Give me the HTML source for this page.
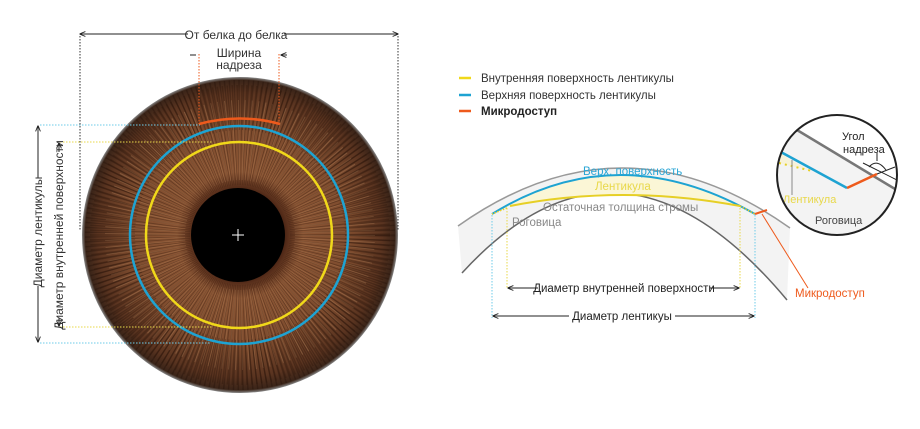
<!DOCTYPE html>
<html><head><meta charset="utf-8"><style>
html,body{margin:0;padding:0;background:#fff;}
svg{display:block;font-family:"Liberation Sans",sans-serif;}
</style></head><body>
<svg width="920" height="429" viewBox="0 0 920 429" xmlns="http://www.w3.org/2000/svg">
<defs>
<radialGradient id="iris" cx="240" cy="235" r="158" gradientUnits="userSpaceOnUse">
<stop offset="0.28" stop-color="#4a2414"/>
<stop offset="0.4" stop-color="#8a5534"/>
<stop offset="0.7" stop-color="#7e4c2e"/>
<stop offset="0.9" stop-color="#5a3420"/>
<stop offset="0.98" stop-color="#3a2418"/>
<stop offset="1" stop-color="#888"/>
</radialGradient>
<clipPath id="ic"><circle cx="837" cy="175" r="60"/></clipPath>
<marker id="ar" viewBox="0 0 10 10" refX="9" refY="5" markerWidth="6" markerHeight="6" orient="auto-start-reverse"><path d="M0,1 L10,5 L0,9" fill="none" stroke="#222" stroke-width="1.5"/></marker>
</defs>

<!-- Eye -->
<circle cx="240" cy="235" r="158" fill="url(#iris)"/>
<circle cx="240" cy="235" r="100" fill="none" stroke="#2a1408" stroke-width="100" stroke-dasharray="1 2.3" opacity="0.35"/>
<circle cx="240" cy="235" r="95" fill="none" stroke="#c8966a" stroke-width="80" stroke-dasharray="0.8 4.1" opacity="0.3"/>
<circle cx="240" cy="235" r="130" fill="none" stroke="#1e0e06" stroke-width="50" stroke-dasharray="1.2 2.9" opacity="0.3"/>
<circle cx="238" cy="235" r="47" fill="#000"/>
<path d="M232 235h12M238 229v12" stroke="#fff" stroke-width="1"/>
<circle cx="239" cy="235" r="109" fill="none" stroke="#1ea3d2" stroke-width="2.5"/>
<circle cx="239" cy="235" r="93" fill="none" stroke="#f0d81a" stroke-width="2.5"/>
<path d="M199 124 Q240 113 280 124" fill="none" stroke="#ee5a1c" stroke-width="2.5"/>

<!-- top dimension -->
<line x1="80" y1="34" x2="398" y2="34" stroke="#222" stroke-width="1" marker-start="url(#ar)" marker-end="url(#ar)"/>
<rect x="188" y="27" width="96" height="14" fill="#fff"/>
<text x="236" y="39" font-size="12" fill="#333" text-anchor="middle">От белка до белка</text>
<line x1="80" y1="36" x2="80" y2="231" stroke="#333" stroke-dasharray="1.5 1.5"/>
<line x1="398" y1="36" x2="398" y2="231" stroke="#333" stroke-dasharray="1.5 1.5"/>
<line x1="199" y1="54" x2="199" y2="124" stroke="#ee5a1c" stroke-dasharray="1.5 1.5"/>
<line x1="279" y1="54" x2="279" y2="124" stroke="#ee5a1c" stroke-dasharray="1.5 1.5"/>
<path d="M190 55h6M287 55h-6" stroke="#222" marker-end="url(#ar)"/>
<text x="239" y="57" font-size="12" fill="#333" text-anchor="middle">Ширина</text>
<text x="239" y="69" font-size="12" fill="#333" text-anchor="middle">надреза</text>

<!-- left dims -->
<line x1="40" y1="125" x2="200" y2="125" stroke="#6ccbe8" stroke-dasharray="1.5 1.5"/>
<line x1="40" y1="343" x2="210" y2="343" stroke="#6ccbe8" stroke-dasharray="1.5 1.5"/>
<line x1="60" y1="142" x2="212" y2="142" stroke="#e8d84a" stroke-dasharray="1.5 1.5"/>
<line x1="60" y1="327" x2="212" y2="327" stroke="#e8d84a" stroke-dasharray="1.5 1.5"/>
<line x1="38" y1="126" x2="38" y2="342" stroke="#222" marker-start="url(#ar)" marker-end="url(#ar)"/>
<line x1="59" y1="143" x2="59" y2="326" stroke="#222" marker-start="url(#ar)" marker-end="url(#ar)"/>
<rect x="31" y="178" width="14" height="108" fill="#fff"/>
<rect x="52" y="152" width="14" height="166" fill="#fff"/>
<text transform="translate(42,232) rotate(-90)" font-size="12" fill="#333" text-anchor="middle">Диаметр лентикулы</text>
<text transform="translate(63,235) rotate(-90)" font-size="12" fill="#333" text-anchor="middle">Диаметр внутренней поверхности</text>

<!-- legend -->
<path d="M459 78h12" stroke="#f0d81a" stroke-width="2.5"/>
<path d="M459 95h12" stroke="#1ea3d2" stroke-width="2.5"/>
<path d="M459 111h12" stroke="#ee5a1c" stroke-width="2.5"/>
<text x="481" y="82" font-size="11.5" fill="#333">Внутренняя поверхность лентикулы</text>
<text x="481" y="99" font-size="11.5" fill="#333">Верхняя поверхность лентикулы</text>
<text x="481" y="115" font-size="11.5" fill="#222" font-weight="bold">Микродоступ</text>

<!-- cornea -->
<path d="M458 226 Q623 109 790 228 L787 300 Q620 100 462 273 Z" fill="#f3f3f3"/>
<path d="M458 226 Q623 109 790 228" fill="none" stroke="#999" stroke-width="1.5"/>
<path d="M462 273 Q620 100 787 300" fill="none" stroke="#666" stroke-width="1.5"/>
<path d="M492 214 Q618 136 755 214 L740 206 Q622 184 510 206 Z" fill="#fbf6d6"/>
<path d="M492 214 Q618 136 755 214" fill="none" stroke="#1ea3d2" stroke-width="2"/>
<path d="M510 206 Q622 184 740 206" fill="none" stroke="#e6cf26" stroke-width="2"/>
<path d="M507 208 L492 214 M740 206 L755 214" stroke="#e6cf26" stroke-width="1.5" stroke-dasharray="1.5 1.5"/>
<line x1="755" y1="214" x2="767" y2="210" stroke="#ee5a1c" stroke-width="2"/>
<line x1="762" y1="214" x2="808" y2="288" stroke="#ee5a1c" stroke-width="1"/>
<text x="795" y="297" font-size="11.5" fill="#ee5a1c">Микродоступ</text>
<text x="583" y="175" font-size="11.5" fill="#2aa6d6">Верх. поверхность</text>
<text x="595" y="190" font-size="11.5" fill="#e8d84a">Лентикула</text>
<text x="543" y="211" font-size="11.5" fill="#888">Остаточная толщина стромы</text>
<text x="512" y="226" font-size="11.5" fill="#888">Роговица</text>
<line x1="492" y1="215" x2="492" y2="318" stroke="#6ccbe8" stroke-dasharray="1.5 1.5"/>
<line x1="755" y1="215" x2="755" y2="318" stroke="#6ccbe8" stroke-dasharray="1.5 1.5"/>
<line x1="507" y1="208" x2="507" y2="288" stroke="#e8d84a" stroke-dasharray="1.5 1.5"/>
<line x1="740" y1="208" x2="740" y2="288" stroke="#e8d84a" stroke-dasharray="1.5 1.5"/>
<line x1="508" y1="288" x2="739" y2="288" stroke="#222" marker-start="url(#ar)" marker-end="url(#ar)"/>
<rect x="538" y="281" width="172" height="14" fill="#fff"/>
<text x="624" y="292" font-size="11.5" fill="#222" text-anchor="middle">Диаметр внутренней поверхности</text>
<line x1="493" y1="316" x2="754" y2="316" stroke="#222" marker-start="url(#ar)" marker-end="url(#ar)"/>
<rect x="569" y="309" width="106" height="14" fill="#fff"/>
<text x="622" y="320" font-size="11.5" fill="#222" text-anchor="middle">Диаметр лентикуы</text>

<!-- inset -->
<g clip-path="url(#ic)">
<rect x="770" y="110" width="140" height="130" fill="#f3f3f3"/>
<path d="M770 110 L770 112 L797 130 L910 198 L910 110 Z" fill="#fff"/>
<path d="M775 148 L779 151 L779 163 L812 171 L790 160 Z" fill="#f7f2d8"/>
<line x1="797" y1="130" x2="900" y2="192" stroke="#777" stroke-width="2.5"/>
<line x1="779" y1="151" x2="847" y2="188" stroke="#1ea3d2" stroke-width="2.5"/>
<line x1="847" y1="188" x2="877" y2="174" stroke="#ee5a1c" stroke-width="2.5"/>
<line x1="779" y1="163" x2="812" y2="171" stroke="#e6cf26" stroke-width="2" stroke-dasharray="2 4"/>
<line x1="792" y1="160" x2="792" y2="195" stroke="#888" stroke-width="1"/>
<line x1="863" y1="163" x2="897" y2="180" stroke="#222" stroke-width="1"/>
<line x1="877" y1="174" x2="895" y2="167" stroke="#222" stroke-width="1"/>
<path d="M869 167 Q877 158 886 170" fill="none" stroke="#222" stroke-width="1"/>
<line x1="877" y1="153" x2="877" y2="161" stroke="#222" stroke-width="1"/>
<text x="783" y="203" font-size="11" fill="#e8d84a">Лентикула</text>
<text x="815" y="224" font-size="11" fill="#444">Роговица</text>
<text x="842" y="140" font-size="11" fill="#222">Угол</text>
<text x="843" y="153" font-size="11" fill="#222">надреза</text>
</g>
<circle cx="837" cy="175" r="60" fill="none" stroke="#222" stroke-width="2"/>
</svg>
</body></html>
